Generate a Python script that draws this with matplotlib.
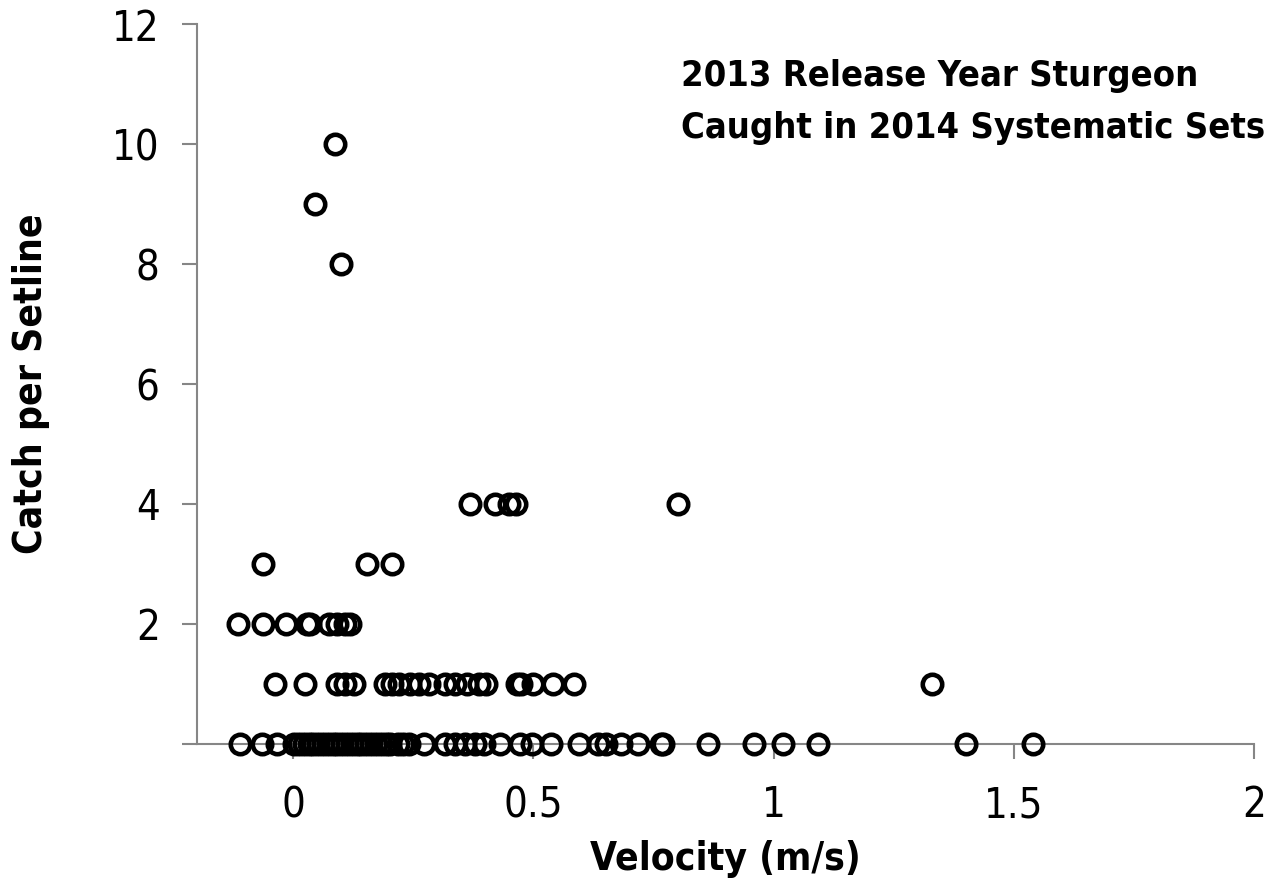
import numpy as np
import matplotlib.pyplot as plt

# catch per setline vs velocity
vel_10 = [0.087]
vel_9 = [0.046]
vel_8 = [0.100]
vel_4 = [0.367, 0.419, 0.450, 0.463, 0.800]
vel_3 = [-0.062, 0.154, 0.205]
vel_2 = [-0.114, -0.064, -0.015, 0.029, 0.035, 0.075, 0.091, 0.108, 0.118]
vel_1 = [-0.039, 0.025, 0.091, 0.108, 0.127, 0.191, 0.205, 0.220, 0.243,
         0.261, 0.282, 0.315, 0.336, 0.361, 0.386, 0.402, 0.465, 0.475,
         0.500, 0.541, 0.585, 1.330]
vel_0 = [-0.110, -0.066, -0.034, 0.002, 0.012, 0.022, 0.032, 0.042, 0.052,
         0.062, 0.072, 0.082, 0.092, 0.102, 0.112, 0.122, 0.132, 0.142,
         0.152, 0.162, 0.172, 0.182, 0.192, 0.202, 0.218, 0.228, 0.240,
         0.273, 0.315, 0.336, 0.357, 0.378, 0.398, 0.430, 0.471, 0.496,
         0.537, 0.595, 0.635, 0.651, 0.683, 0.718, 0.766, 0.770, 0.863,
         0.958, 1.019, 1.093, 1.400, 1.540]

groups = [(vel_10, 10), (vel_9, 9), (vel_8, 8), (vel_4, 4), (vel_3, 3),
          (vel_2, 2), (vel_1, 1), (vel_0, 0)]

plt.rcParams['font.family'] = ['DejaVu Sans']
plt.rcParams['font.stretch'] = 'condensed'

fig = plt.figure(figsize=(12.72, 8.93), dpi=100)
ax = fig.add_axes([0.155, 0.167, 0.831, 0.806])

for xs, c in groups:
    ax.plot(xs, [c] * len(xs), 'o', ms=14, mfc='none', mec='black',
            mew=3.3, clip_on=False, zorder=3)

ax.set_xlim(-0.2, 2)
ax.set_ylim(0, 12)
ax.set_xticks([0, 0.5, 1, 1.5, 2])
ax.set_xticklabels(['0', '0.5', '1', '1.5', '2'])
ax.set_yticks([0, 2, 4, 6, 8, 10, 12])
ax.set_yticklabels(['', '2', '4', '6', '8', '10', '12'])

for s in ['top', 'right']:
    ax.spines[s].set_visible(False)
for s in ['left', 'bottom']:
    ax.spines[s].set_color('#868686')
    ax.spines[s].set_linewidth(1.5)
ax.tick_params(colors='#868686', labelcolor='black', length=11, width=1.5,
               labelsize=30, pad=16)
ax.tick_params(axis='x', pad=18)

ax.set_xlabel('Velocity (m/s)', fontsize=28, fontweight='bold', labelpad=10)
ax.set_ylabel('Catch per Setline', fontsize=28, fontweight='bold', labelpad=45)

fig.text(0.535, 0.886, '2013 Release Year Sturgeon\nCaught in 2014 Systematic Sets',
         fontsize=26, fontweight='bold', ha='left', va='center',
         linespacing=1.65)

fig.savefig('out.png', dpi=100)
